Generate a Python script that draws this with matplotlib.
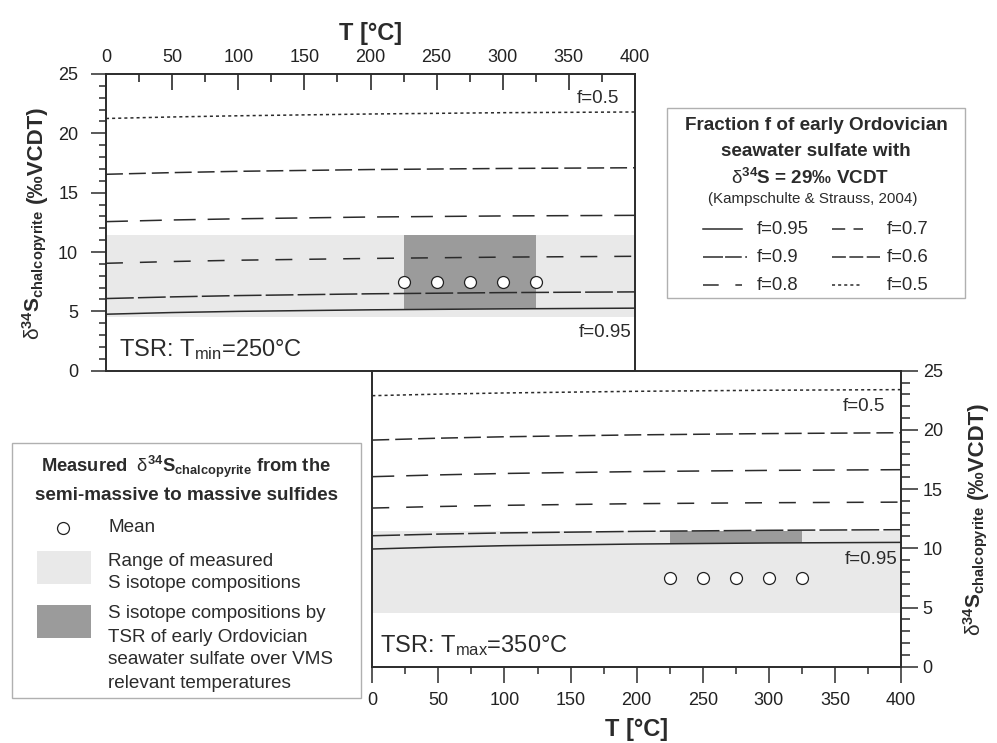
import numpy as np
import matplotlib
matplotlib.use('Agg')
import matplotlib.pyplot as plt
from matplotlib.ticker import MultipleLocator
from matplotlib.transforms import Affine2D
from matplotlib.patches import Rectangle
from matplotlib.lines import Line2D

plt.rcParams['font.family'] = ['Liberation Sans', 'DejaVu Sans']
plt.rcParams['mathtext.fontset'] = 'custom'
plt.rcParams['mathtext.rm'] = 'Liberation Sans'
plt.rcParams['mathtext.bf'] = 'Liberation Sans:bold'
plt.rcParams['mathtext.it'] = 'Liberation Sans:italic'
plt.rcParams['lines.scale_dashes'] = False

# ---- data ----
T = [0, 50, 100, 200, 300, 400]

# panel 1: TSR T_min = 250 C
top_f095 = [4.76, 4.90, 5.00, 5.13, 5.21, 5.27]
top_f09 = [6.08, 6.22, 6.33, 6.48, 6.58, 6.64]
top_f08 = [9.05, 9.20, 9.31, 9.46, 9.57, 9.64]
top_f07 = [12.56, 12.70, 12.80, 12.95, 13.04, 13.09]
top_f06 = [16.55, 16.69, 16.80, 16.95, 17.04, 17.10]
top_f05 = [21.25, 21.38, 21.48, 21.63, 21.74, 21.80]

# panel 2: TSR T_max = 350 C
bot_f095 = [9.94, 10.10, 10.22, 10.36, 10.45, 10.50]
bot_f09 = [11.06, 11.20, 11.30, 11.43, 11.52, 11.57]
bot_f08 = [13.40, 13.53, 13.63, 13.77, 13.85, 13.90]
bot_f07 = [16.05, 16.20, 16.32, 16.48, 16.58, 16.64]
bot_f06 = [19.14, 19.30, 19.42, 19.58, 19.69, 19.76]
bot_f05 = [22.89, 23.02, 23.12, 23.26, 23.35, 23.40]

f_labels = ['f=0.95', 'f=0.9', 'f=0.8', 'f=0.7', 'f=0.6', 'f=0.5']

# measured chalcopyrite d34S
range_lo, range_hi = 4.55, 11.43
mean_T = [225, 250, 275, 300, 325]
mean_d34S = [7.45, 7.45, 7.45, 7.45, 7.45]
tsr_T = [225, 325]
tsr_lo_top = 5.18
tsr_lo_bot = 10.45

# ---- styles ----
ink = '#2b2b2b'
light = '#e9e9e9'
dark = '#9b9b9b'
styles = {
    'f=0.95': '-',
    'f=0.9': (0, (20, 3)),
    'f=0.8': (0, (12.2, 12.2)),
    'f=0.7': (0, (15.8, 8.6)),
    'f=0.6': (0, (12.2, 4.3)),
    'f=0.5': (0, (2.2, 2.2)),
}
# legend samples are drawn a bit differently in the original
key_styles = {
    'f=0.95': ('-', 703, 742),
    'f=0.9': ((0, (14.4, 1.5, 12, 2.5, 2, 9)), 703, 747),
    'f=0.8': ((0, (11.3, 12)), 703, 742),
    'f=0.7': ((0, (9.5, 6)), 832, 863),
    'f=0.6': ((0, (10, 2.5)), 832, 880),
    'f=0.5': ((0, (2.2, 2.2)), 832, 860),
}

W, H = 997, 743
fig = plt.figure(figsize=(W / 100, H / 100), dpi=100)
px = Affine2D().scale(1 / W, -1 / H).translate(0, 1) + fig.transFigure

ax1 = fig.add_axes([106 / W, 1 - 370.7 / H, 529 / W, 296.7 / H])
ax2 = fig.add_axes([372.3 / W, 1 - 666.7 / H, 528.7 / W, 296 / H])


def draw_panel(ax, curves, tsr_lo):
    ax.set_xlim(0, 400)
    ax.set_ylim(0, 25)
    ax.fill_between([0, 400], range_lo, range_hi, color=light, lw=0, zorder=1)
    ax.fill_between(tsr_T, tsr_lo, range_hi, color=dark, lw=0, zorder=2)
    for lab, y in zip(f_labels, curves):
        ax.plot(T, y, ls=styles[lab], color=ink, lw=1.1, zorder=3)
    ax.plot(mean_T, mean_d34S, 'o', ms=8.6, mfc='white', mec='#222222',
            mew=0.9, zorder=4, clip_on=False)
    for s in ax.spines.values():
        s.set_linewidth(1.4)
        s.set_color(ink)
    ax.xaxis.set_major_locator(MultipleLocator(50))
    ax.xaxis.set_minor_locator(MultipleLocator(25))
    ax.yaxis.set_major_locator(MultipleLocator(5))
    ax.yaxis.set_minor_locator(MultipleLocator(1))
    ax.tick_params(which='both', color=ink, width=1.1, labelsize=13,
                   labelcolor='#222222')


draw_panel(ax1, [top_f095, top_f09, top_f08, top_f07, top_f06, top_f05],
           tsr_lo_top)
draw_panel(ax2, [bot_f095, bot_f09, bot_f08, bot_f07, bot_f06, bot_f05],
           tsr_lo_bot)

# top panel axes: T axis on top, ticks pointing into the plot
ax1.tick_params(axis='x', which='both', direction='in', bottom=False,
                top=True, labelbottom=False, labeltop=True,
                color=ink, width=1.2, pad=6)
ax1.tick_params(axis='x', which='major', length=11.5)
ax1.tick_params(axis='x', which='minor', length=5.8)
ax1.xaxis.set_label_position('top')
ax1.tick_params(axis='y', which='both', direction='out', left=True,
                right=False, pad=9)
ax1.tick_params(axis='y', which='major', length=11)
ax1.tick_params(axis='y', which='minor', length=5)
ax1.set_xlabel('T [°C]', fontsize=17, fontweight='bold', color=ink,
               labelpad=6)

# bottom panel axes
ax2.tick_params(axis='y', which='both', left=False, right=True,
                labelleft=False, labelright=True, direction='out', pad=3.6)
ax2.tick_params(axis='y', which='major', length=12)
ax2.tick_params(axis='y', which='minor', length=6.5)
ax2.tick_params(axis='x', which='both', direction='out', bottom=True,
                top=False, pad=7)
ax2.tick_params(axis='x', which='major', length=11.5)
ax2.tick_params(axis='x', which='minor', length=5)
ax2.set_xlabel('T [°C]', fontsize=17, fontweight='bold', color=ink,
               labelpad=6)

# y axis titles: two pieces so the unit can be larger than the subscript
ylab_a = r'$\mathrm{\delta}^{\mathbf{34}}\mathbf{S}_{\mathbf{chalcopyrite}}$'
ylab_b = '(‰VCDT)'
for xb, ybot, ytop in [(40, 340, 105), (981, 636, 401)]:
    fig.text(xb, ybot, ylab_a, transform=px, rotation=90,
             rotation_mode='anchor', ha='left', va='baseline', fontsize=15,
             fontweight='bold', color=ink)
    fig.text(xb + 2, ytop, ylab_b, transform=px, rotation=90,
             rotation_mode='anchor', ha='right', va='baseline', fontsize=16,
             fontweight='bold', color=ink)

# in-panel annotations
ax1.text(356, 22.58, 'f=0.5', fontsize=13.5, color=ink, va='baseline')
ax1.text(397, 2.86, 'f=0.95', fontsize=13.5, color=ink, va='baseline',
         ha='right')
ax1.text(10, 1.2, r'TSR: T$_{\mathrm{min}}$=250°C', fontsize=17, color=ink,
         va='baseline')
ax2.text(356, 21.6, 'f=0.5', fontsize=13.5, color=ink, va='baseline')
ax2.text(397, 8.67, 'f=0.95', fontsize=13.5, color=ink, va='baseline',
         ha='right')
ax2.text(6, 1.2, r'TSR: T$_{\mathrm{max}}$=350°C', fontsize=17, color=ink,
         va='baseline')

# ---- legend 1: fraction f ----
fig.add_artist(Rectangle((667, 108), 298, 190, transform=px, fill=False,
                         ec='#b0b0b0', lw=1.0))
fig.text(816, 125, 'Fraction f of early Ordovician', transform=px,
         ha='center', va='center', fontsize=13.6, fontweight='bold', color=ink)
fig.text(816, 152, 'seawater sulfate with', transform=px,
         ha='center', va='center', fontsize=13.6, fontweight='bold', color=ink)
fig.text(810, 178, r'$\mathrm{\delta}^{\mathbf{34}}$S = 29‰ VCDT', transform=px,
         ha='center', va='center', fontsize=13.6, fontweight='bold', color=ink)
fig.text(813, 199, '(Kampschulte & Strauss, 2004)', transform=px,
         ha='center', va='center', fontsize=10.9, color=ink)
rows = [229, 257, 285]
for i, lab in enumerate(f_labels):
    col = i // 3
    y = rows[i % 3]
    ls, x0, x1 = key_styles[lab]
    xt = 757 if col == 0 else 887
    fig.add_artist(Line2D([x0, x1], [y, y], transform=px, color=ink, lw=1.1,
                          ls=ls))
    fig.text(xt, y, lab, transform=px, va='center', fontsize=13.3, color=ink)

# ---- legend 2: measured values ----
fig.add_artist(Rectangle((12, 443), 349, 255, transform=px, fill=False,
                         ec='#b0b0b0', lw=1.0))
fig.text(186, 467,
         r'Measured  $\mathrm{\delta}^{\mathbf{34}}\mathbf{S}_{\mathbf{chalcopyrite}}$ from the',
         transform=px, ha='center', va='center', fontsize=13.2,
         fontweight='bold', color=ink)
fig.text(186, 495, 'semi-massive to massive sulfides', transform=px,
         ha='center', va='center', fontsize=13.6, fontweight='bold', color=ink)
fig.add_artist(Line2D([63], [528], transform=px, marker='o', ms=8.6,
                      mfc='white', mec='#222222', mew=0.9, ls='none'))
fig.text(108, 528, 'Mean', transform=px, va='center', fontsize=13.6, color=ink)
fig.add_artist(Rectangle((37, 551), 54, 33, transform=px, fc=light, lw=0))
for y, s in zip([561, 584], ['Range of measured', 'S isotope compositions']):
    fig.text(108, y, s, transform=px, va='center', fontsize=13.6, color=ink)
fig.add_artist(Rectangle((37, 605), 54, 33, transform=px, fc=dark, lw=0))
for y, s in zip([614, 637, 660, 683],
                ['S isotope compositions by', 'TSR of early Ordovician',
                 'seawater sulfate over VMS', 'relevant temperatures']):
    fig.text(108, y, s, transform=px, va='center', fontsize=13.6, color=ink)

fig.savefig('out.png', dpi=100)
